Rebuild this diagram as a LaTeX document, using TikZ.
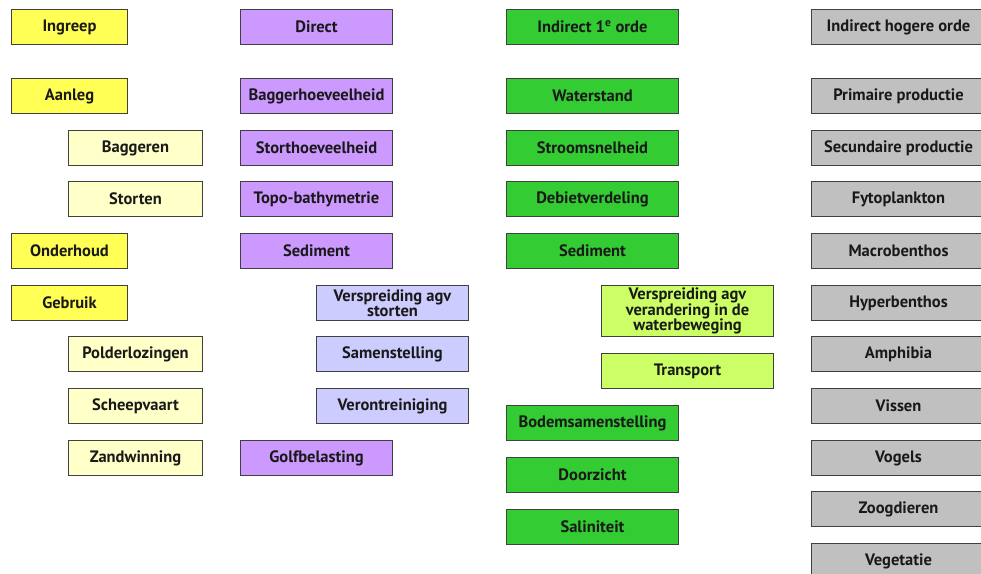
\documentclass[tikz,border=0pt]{standalone}
\usepackage{fontspec}
\setmainfont{PT Sans}
\begin{document}
\begin{tikzpicture}[x=1pt,y=-1pt,
  box/.style={draw=black!75,line width=1pt,anchor=north west,inner sep=0pt,
    font=\bfseries\fontsize{16.5}{15.5}\selectfont,text=black!90,align=center},
  yel/.style={box,fill=yelA},
  yelL/.style={box,fill=yelB},
  pur/.style={box,fill=purA},
  purL/.style={box,fill=purB},
  grn/.style={box,fill=grnA},
  grnL/.style={box,fill=grnB},
  gry/.style={box,fill=gryA},
  w1/.style={minimum width=116pt},
  w1b/.style={minimum width=134pt},
  w2/.style={minimum width=152pt},
  w3/.style={minimum width=172pt},
  w4/.style={minimum width=174pt},
  hh/.style={minimum height=35pt}
]
\definecolor{yelA}{HTML}{FFFF55}
\definecolor{yelB}{HTML}{FFFFC8}
\definecolor{purA}{HTML}{CC99FF}
\definecolor{purB}{HTML}{CCCCFF}
\definecolor{grnA}{HTML}{33CC33}
\definecolor{grnB}{HTML}{CCFF66}
\definecolor{gryA}{HTML}{C0C0C0}
\useasboundingbox (0,0) rectangle (981,573);
\clip (0,0) rectangle (981,573);

% Ingreep column
\node[yel,w1,hh] (ingreep) at (11,9) {Ingreep};
\node[yel,w1,hh] (aanleg) at (11,78) {Aanleg};
\node[yelL,w1b,hh] (baggeren) at (68,130) {Baggeren};
\node[yelL,w1b,hh] (storten) at (68,181) {Storten};
\node[yel,w1,hh] (onderhoud) at (11,233) {Onderhoud};
\node[yel,w1,hh] (gebruik) at (11,285) {Gebruik};
\node[yelL,w1b,hh] (polder) at (68,336) {Polderlozingen};
\node[yelL,w1b,hh] (scheep) at (68,388) {Scheepvaart};
\node[yelL,w1b,hh] (zand) at (68,440) {Zandwinning};

% Direct column
\node[pur,w2,hh] (direct) at (240,9) {Direct};
\node[pur,w2,hh] (bagger) at (240,78) {Baggerhoeveelheid};
\node[pur,w2,hh] (stort) at (240,130) {Storthoeveelheid};
\node[pur,w2,hh] (topo) at (240,181) {Topo-bathymetrie};
\node[pur,w2,hh] (sedA) at (240,233) {Sediment};
\node[purL,w2,hh] (versprA) at (316,285) {Verspreiding agv\\storten};
\node[purL,w2,hh] (samen) at (316,336) {Samenstelling};
\node[purL,w2,hh] (veront) at (316,388) {Verontreiniging};
\node[pur,w2,hh] (golf) at (240,440) {Golfbelasting};

% Indirect first-order column
\node[grn,w3,hh] (indirA) at (506,9) {Indirect 1\textsuperscript{e} orde};
\node[grn,w3,hh] (water) at (506,78) {Waterstand};
\node[grn,w3,hh] (stroom) at (506,130) {Stroomsnelheid};
\node[grn,w3,hh] (debiet) at (506,181) {Debietverdeling};
\node[grn,w3,hh] (sedB) at (506,233) {Sediment};
\node[grnL,w3,minimum height=51pt] (versprB) at (601,285) {Verspreiding agv\\verandering in de\\waterbeweging};
\node[grnL,w3,hh] (transp) at (601,353) {Transport};
\node[grn,w3,hh] (bodem) at (506,405) {Bodemsamenstelling};
\node[grn,w3,hh] (doorz) at (506,457) {Doorzicht};
\node[grn,w3,hh] (salin) at (506,509) {Saliniteit};

% Indirect higher-order column
\node[gry,w4,hh] (indirB) at (811,9) {Indirect hogere orde};
\node[gry,w4,hh] (prim) at (811,78) {Primaire productie};
\node[gry,w4,hh] (sec) at (811,130) {Secundaire productie};
\node[gry,w4,hh] (fyto) at (811,181) {Fytoplankton};
\node[gry,w4,hh] (macro) at (811,233) {Macrobenthos};
\node[gry,w4,hh] (hyper) at (811,285) {Hyperbenthos};
\node[gry,w4,hh] (amph) at (811,336) {Amphibia};
\node[gry,w4,hh] (vissen) at (811,388) {Vissen};
\node[gry,w4,hh] (vogels) at (811,440) {Vogels};
\node[gry,w4,hh] (zoog) at (811,491) {Zoogdieren};
\node[gry,w4,hh] (veget) at (811,543) {Vegetatie};
\end{tikzpicture}
\end{document}
